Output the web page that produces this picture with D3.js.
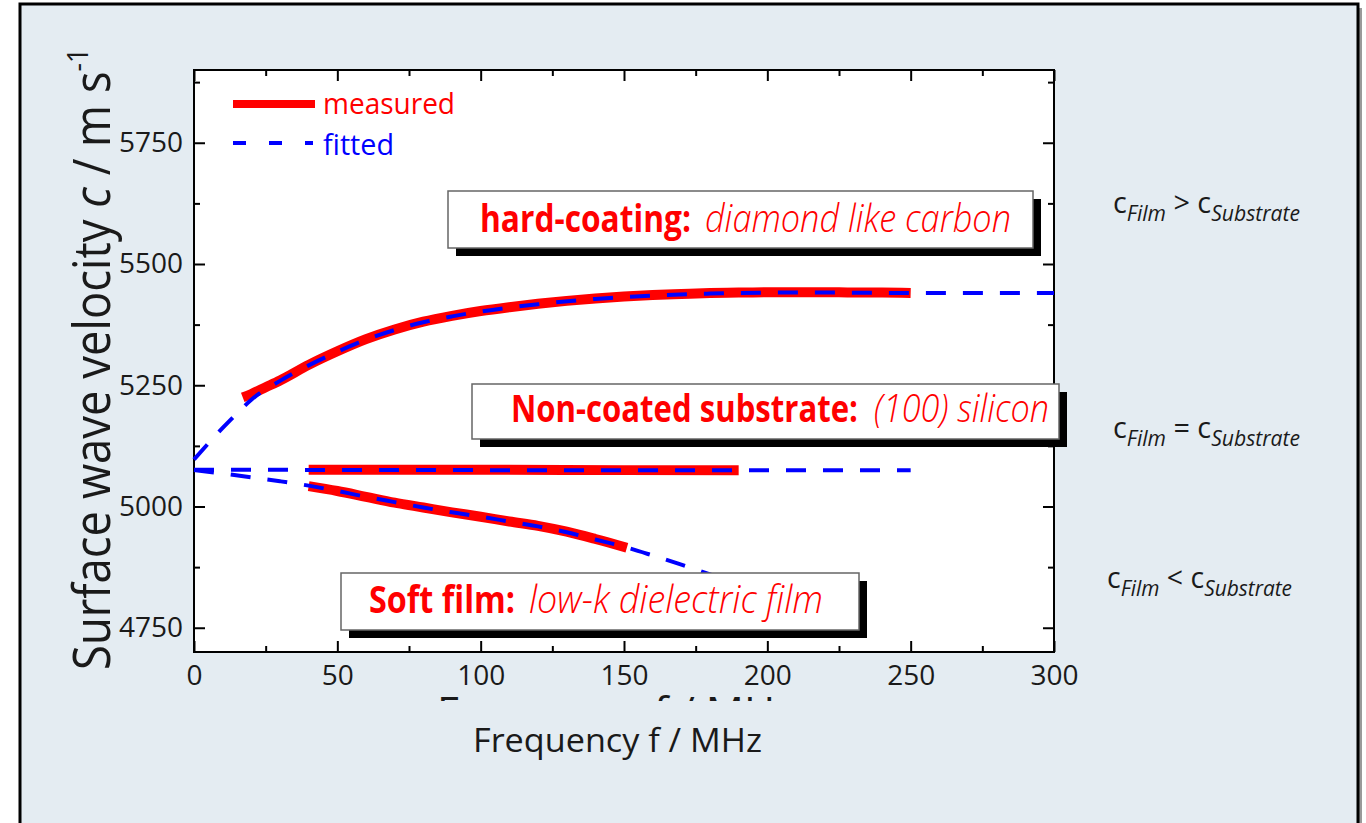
<!DOCTYPE html>
<html><head><meta charset="utf-8">
<script src="https://cdn.jsdelivr.net/npm/d3@7"></script>
<style>html,body{margin:0;padding:0;background:#fff;overflow:hidden}</style>
</head><body><svg id="c" width="1366" height="823"></svg>
<script>
// ---- data ----
const xMajorTicks = [0, 50, 100, 150, 200, 250, 300];
const xMinorTicks = [25, 75, 125, 175, 225, 275];
const yMajorTicks = [4750, 5000, 5250, 5500, 5750];
const yMinorTicks = [4875, 5125, 5375, 5625, 5875];
const hardMeasured = [[17,5225],[20,5232],[25,5246],[30,5260],[40,5292],[50,5320],[60,5345],[70,5365],[80,5381],[90,5393],[100,5403],[110,5411],[120,5418],[130,5424],[140,5429],[150,5433],[160,5436],[170,5438],[180,5440],[190,5441],[200,5442],[210,5442],[220,5442],[230,5441],[240,5441],[250,5440]];
const hardFitted = [[0,5097],[5,5130],[10,5162],[15,5192],[20,5220],[30,5259],[40,5291],[50,5319],[60,5344],[70,5364],[80,5380],[90,5392],[100,5402],[120,5417],[140,5428],[160,5435],[180,5439],[200,5441],[225,5441],[250,5440],[275,5440],[300,5440]];
const subMeasured = [[40,5076],[100,5076],[150,5075],[190,5075]];
const subFitted = [[0,5076],[100,5075],[250,5075]];
const softMeasured = [[40,5042],[50,5032],[60,5020],[70,5008],[80,4998],[90,4988],[100,4979],[110,4969],[120,4960],[130,4948],[140,4933],[151,4915]];
const softFitted = [[0,5075],[10,5068],[20,5060],[30,5052],[40,5043],[50,5032],[60,5020],[70,5009],[80,4998],[90,4988],[100,4979],[110,4969],[120,4959],[130,4947],[140,4932],[150,4917],[160,4899],[170,4880],[180,4860],[190,4838]];
const legendLabels = ["measured", "fitted"];

// ---- chart ----
const svg = d3.select("#c");
const FONT = "'Open Sans', 'DejaVu Sans', sans-serif";
const INK = "#1a1a1a";
const RED = "#ff0000", BLUE = "#0000ff";

// outer panel
svg.append("rect").attr("x", 24).attr("y", 8).attr("width", 1338).attr("height", 840).attr("fill", "#9a9a9a");
svg.append("rect").attr("x", 20).attr("y", 4).attr("width", 1338).attr("height", 840)
  .attr("fill", "#e4ecf2").attr("stroke", "#000").attr("stroke-width", 3);

const x = d3.scaleLinear([0, 300], [194, 1054]);
const y = d3.scaleLinear([4700, 5900], [652, 70]);

// plot background
svg.append("rect").attr("x", 194).attr("y", 70).attr("width", 860).attr("height", 582).attr("fill", "#fff");

// hidden (clipped) larger x label artefact
svg.append("clipPath").attr("id", "cut").append("rect").attr("x", 0).attr("y", 0).attr("width", 1366).attr("height", 701);
svg.append("text").attr("clip-path", "url(#cut)").attr("x", 437).attr("y", 726)
  .attr("font-family", FONT).attr("font-size", 40).attr("fill", INK)
  .attr("textLength", 358).attr("lengthAdjust", "spacingAndGlyphs").text("Frequency f / MHz");

function styleAxis(g, size) {
  g.select(".domain").remove();
  g.selectAll("line").attr("stroke", "#000").attr("stroke-width", 2);
  g.selectAll("text").attr("font-family", FONT).attr("font-size", size).attr("fill", INK);
}
// axes with inward ticks
svg.append("g").attr("transform", "translate(0,652)")
  .call(d3.axisBottom(x).tickValues(xMajorTicks).tickSize(-11).tickPadding(13).tickFormat(d3.format("d")))
  .call(g => styleAxis(g, 28));
svg.append("g").attr("transform", "translate(0,652)")
  .call(d3.axisBottom(x).tickValues(xMinorTicks).tickSize(-6).tickFormat(""))
  .call(g => styleAxis(g, 28));
svg.append("g").attr("transform", "translate(0,70)")
  .call(d3.axisTop(x).tickValues(xMajorTicks).tickSize(-11).tickFormat(""))
  .call(g => styleAxis(g, 28));
svg.append("g").attr("transform", "translate(0,70)")
  .call(d3.axisTop(x).tickValues(xMinorTicks).tickSize(-6).tickFormat(""))
  .call(g => styleAxis(g, 28));
svg.append("g").attr("transform", "translate(194,0)")
  .call(d3.axisLeft(y).tickValues(yMajorTicks).tickSize(-11).tickPadding(11).tickFormat(d3.format("d")))
  .call(g => styleAxis(g, 28));
svg.append("g").attr("transform", "translate(194,0)")
  .call(d3.axisLeft(y).tickValues(yMinorTicks).tickSize(-6).tickFormat(""))
  .call(g => styleAxis(g, 28));
svg.append("g").attr("transform", "translate(1054,0)")
  .call(d3.axisRight(y).tickValues(yMajorTicks).tickSize(-11).tickFormat(""))
  .call(g => styleAxis(g, 28));
svg.append("g").attr("transform", "translate(1054,0)")
  .call(d3.axisRight(y).tickValues(yMinorTicks).tickSize(-6).tickFormat(""))
  .call(g => styleAxis(g, 28));

// frame
svg.append("rect").attr("x", 194).attr("y", 70).attr("width", 860).attr("height", 582)
  .attr("fill", "none").attr("stroke", "#000").attr("stroke-width", 2);

// curves
const line = d3.line().x(d => x(d[0])).y(d => y(d[1])).curve(d3.curveMonotoneX);
[hardMeasured, subMeasured, softMeasured].forEach(s => {
  svg.append("path").attr("d", line(s)).attr("fill", "none").attr("stroke", RED)
    .attr("stroke-width", 10).attr("stroke-linecap", "butt");
});
[hardFitted, subFitted, softFitted].forEach(s => {
  svg.append("path").attr("d", line(s)).attr("fill", "none").attr("stroke", BLUE)
    .attr("stroke-width", 4).attr("stroke-dasharray", "20,17");
});

// legend
svg.append("line").attr("x1", 233).attr("x2", 315).attr("y1", 104).attr("y2", 104)
  .attr("stroke", RED).attr("stroke-width", 8);
svg.append("line").attr("x1", 233).attr("x2", 313).attr("y1", 143).attr("y2", 143)
  .attr("stroke", BLUE).attr("stroke-width", 4).attr("stroke-dasharray", "13,23");
svg.append("text").attr("x", 323).attr("y", 114).attr("font-family", FONT).attr("font-size", 30)
  .attr("fill", RED).attr("textLength", 132).attr("lengthAdjust", "spacingAndGlyphs").text(legendLabels[0]);
svg.append("text").attr("x", 323).attr("y", 155).attr("font-family", FONT).attr("font-size", 30)
  .attr("fill", BLUE).attr("textLength", 71).attr("lengthAdjust", "spacingAndGlyphs").text(legendLabels[1]);

// annotation boxes
const boxes = [
  {x: 448, y: 191, w: 585, h: 57, base: 232, parts: [
    {t: "hard-coating:", x: 480, len: 211, b: true},
    {t: "diamond like carbon", x: 705, len: 306, b: false}]},
  {x: 472, y: 384, w: 587, h: 55, base: 422, parts: [
    {t: "Non-coated substrate:", x: 511, len: 347, b: true},
    {t: "(100) silicon", x: 874, len: 175, b: false}]},
  {x: 341, y: 573, w: 518, h: 57, base: 613, parts: [
    {t: "Soft film:", x: 369, len: 146, b: true},
    {t: "low-k dielectric film", x: 529, len: 294, b: false}]}
];
boxes.forEach(bx => {
  svg.append("rect").attr("x", bx.x + 8).attr("y", bx.y + 8).attr("width", bx.w).attr("height", bx.h).attr("fill", "#000");
  svg.append("rect").attr("x", bx.x).attr("y", bx.y).attr("width", bx.w).attr("height", bx.h)
    .attr("fill", "#fff").attr("stroke", "#666").attr("stroke-width", 1.5);
  bx.parts.forEach(p => {
    svg.append("text").attr("x", p.x).attr("y", bx.base).attr("font-family", FONT)
      .attr("font-size", 38).attr("fill", RED)
      .attr("font-weight", p.b ? 700 : 300).attr("font-style", p.b ? "normal" : "italic")
      .attr("textLength", p.len).attr("lengthAdjust", "spacingAndGlyphs").text(p.t);
  });
});

// right-hand relations
const rels = [{x: 1113, y: 213, op: ">", len: 187}, {x: 1113, y: 438, op: "=", len: 187}, {x: 1107, y: 588, op: "<", len: 185}];
rels.forEach(r => {
  const t = svg.append("text").attr("x", r.x).attr("y", r.y).attr("font-family", FONT)
    .attr("font-size", 30).attr("fill", INK).attr("textLength", r.len).attr("lengthAdjust", "spacingAndGlyphs");
  t.append("tspan").text("c");
  t.append("tspan").attr("font-size", 22).attr("font-style", "italic").attr("dy", 8).text("Film");
  t.append("tspan").attr("dy", -8).text(" " + r.op + " c");
  t.append("tspan").attr("font-size", 22).attr("font-style", "italic").attr("dy", 8).text("Substrate");
});

// axis titles
svg.append("text").attr("x", 473).attr("y", 752).attr("font-family", FONT).attr("font-size", 33)
  .attr("fill", INK).attr("textLength", 289).attr("lengthAdjust", "spacingAndGlyphs").text("Frequency f / MHz");

const yl = svg.append("text").attr("transform", "translate(110,670) rotate(-90)")
  .attr("font-family", FONT).attr("font-size", 52).attr("fill", INK)
  .attr("textLength", 622).attr("lengthAdjust", "spacingAndGlyphs");
yl.append("tspan").text("Surface wave velocity ");
yl.append("tspan").attr("font-style", "italic").text("c");
yl.append("tspan").text(" / m s");
yl.append("tspan").attr("font-size", 30).attr("dy", -22).text("-1");
</script></body></html>
